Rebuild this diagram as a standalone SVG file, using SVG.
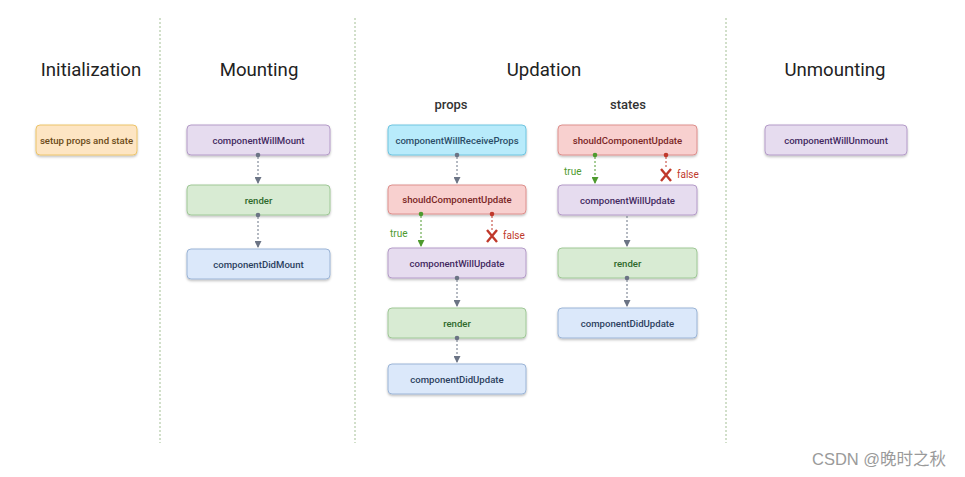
<svg xmlns="http://www.w3.org/2000/svg" width="965" height="477" viewBox="0 0 965 477">
<style>
.t{font-family:Roboto,"Liberation Sans",sans-serif;fill:#222}
.h{font-size:18.6px;text-anchor:middle}
.s{font-size:13px;text-anchor:middle;font-weight:500;fill:#333}
.b{font-family:Roboto,"Liberation Sans",sans-serif;font-size:9.6px;font-weight:500;text-anchor:middle}
.div{stroke:#a3bf94;stroke-width:1;stroke-dasharray:2 2}
.pu rect{fill:#e6dcef;stroke:#b49bc8}.pu text{fill:#43295f}
.gr rect{fill:#d8ebd3;stroke:#9fc896}.gr text{fill:#2f6a2c}
.bl rect{fill:#dbe8fa;stroke:#9bb4d6}.bl text{fill:#2c3f5e}
.rd rect{fill:#f8d0cf;stroke:#dd8f8c}.rd text{fill:#7a2525}
.cy rect{fill:#b8ebfb;stroke:#6fc5e0}.cy text{fill:#2b4d68}
.or rect{fill:#fde5c3;stroke:#ecc46b}.or text{fill:#6a4a17}
.c{fill:none;stroke-width:1;stroke-dasharray:2 2}
.cg{stroke:#6b7485}.cgr{stroke:#4e9a2e}.crd{stroke:#c0392b}
.lbl{font-family:Roboto,"Liberation Sans",sans-serif;font-size:10px}
</style>
<defs>
<filter id="sh" x="-10%" y="-20%" width="120%" height="150%">
<feDropShadow dx="0" dy="1.5" stdDeviation="1" flood-color="#000" flood-opacity="0.25"/>
</filter>
<marker id="ag" viewBox="0 0 10 10" refX="5" refY="10" markerWidth="7" markerHeight="7" markerUnits="userSpaceOnUse"><path d="M0,0 L10,0 L5,10 Z" fill="#6b7485"/></marker>
<marker id="agr" viewBox="0 0 10 10" refX="5" refY="10" markerWidth="7" markerHeight="7" markerUnits="userSpaceOnUse"><path d="M0,0 L10,0 L5,10 Z" fill="#4e9a2e"/></marker>
</defs>
<rect width="965" height="477" fill="#fff"/>
<g id="dividers">
<line class="div" x1="160" y1="18" x2="160" y2="443"/>
<line class="div" x1="355" y1="18" x2="355" y2="443"/>
<line class="div" x1="726" y1="18" x2="726" y2="443"/>
</g>
<g id="titles">
<text class="t h" x="91" y="76">Initialization</text>
<text class="t h" x="259" y="76">Mounting</text>
<text class="t h" x="544" y="76">Updation</text>
<text class="t h" x="835" y="76">Unmounting</text>
<text class="t s" x="451" y="109">props</text>
<text class="t s" x="628" y="109">states</text>
</g>
<g id="n-setup" class="or"><rect x="36" y="125" width="101" height="30" rx="4" filter="url(#sh)"/><text class="b" x="86.5" y="144">setup props and state</text></g>
<g id="n-cwm" class="pu"><rect x="187" y="125" width="143" height="30" rx="4" filter="url(#sh)"/><text class="b" x="258.5" y="144">componentWillMount</text></g>
<g id="n-render-m" class="gr"><rect x="187" y="185" width="143" height="30" rx="4" filter="url(#sh)"/><text class="b" x="258.5" y="204">render</text></g>
<g id="n-cdm" class="bl"><rect x="187" y="249" width="143" height="30" rx="4" filter="url(#sh)"/><text class="b" x="258.5" y="268">componentDidMount</text></g>
<g id="n-cwrp" class="cy"><rect x="388" y="125" width="138" height="30" rx="4" filter="url(#sh)"/><text class="b" x="457" y="144">componentWillReceiveProps</text></g>
<g id="n-scu-p" class="rd"><rect x="388" y="185" width="138" height="29" rx="4" filter="url(#sh)"/><text class="b" x="457" y="203">shouldComponentUpdate</text></g>
<g id="n-cwu-p" class="pu"><rect x="388" y="248" width="138" height="30" rx="4" filter="url(#sh)"/><text class="b" x="457" y="267">componentWillUpdate</text></g>
<g id="n-render-p" class="gr"><rect x="388" y="308" width="138" height="30" rx="4" filter="url(#sh)"/><text class="b" x="457" y="327">render</text></g>
<g id="n-cdu-p" class="bl"><rect x="388" y="364" width="138" height="30" rx="4" filter="url(#sh)"/><text class="b" x="457" y="383">componentDidUpdate</text></g>
<g id="n-scu-s" class="rd"><rect x="558" y="125" width="139" height="30" rx="4" filter="url(#sh)"/><text class="b" x="627.5" y="144">shouldComponentUpdate</text></g>
<g id="n-cwu-s" class="pu"><rect x="558" y="185" width="139" height="30" rx="4" filter="url(#sh)"/><text class="b" x="627.5" y="204">componentWillUpdate</text></g>
<g id="n-render-s" class="gr"><rect x="558" y="248" width="139" height="30" rx="4" filter="url(#sh)"/><text class="b" x="627.5" y="267">render</text></g>
<g id="n-cdu-s" class="bl"><rect x="558" y="308" width="139" height="30" rx="4" filter="url(#sh)"/><text class="b" x="627.5" y="327">componentDidUpdate</text></g>
<g id="n-cwun" class="pu"><rect x="765" y="125" width="142" height="30" rx="4" filter="url(#sh)"/><text class="b" x="836" y="144">componentWillUnmount</text></g>
<g id="connectors">
<g fill="#6b7485">
<circle cx="258" cy="155" r="2.3"/><circle cx="258" cy="215" r="2.3"/>
<circle cx="457" cy="155" r="2.3"/><circle cx="457" cy="278" r="2.3"/><circle cx="457" cy="338" r="2.3"/>
<circle cx="627" cy="278" r="2.3"/>
</g>
<path class="c cg" d="M258,157 V184" marker-end="url(#ag)"/>
<path class="c cg" d="M258,217 V248" marker-end="url(#ag)"/>
<path class="c cg" d="M457,157 V184" marker-end="url(#ag)"/>
<path class="c cg" d="M457,280 V307" marker-end="url(#ag)"/>
<path class="c cg" d="M457,340 V363" marker-end="url(#ag)"/>
<path class="c cg" d="M627,216 V247" marker-end="url(#ag)"/>
<path class="c cg" d="M627,280 V307" marker-end="url(#ag)"/>
<circle cx="421" cy="214" r="2.3" fill="#4e9a2e"/>
<path class="c cgr" d="M421,216 V247" marker-end="url(#agr)"/>
<circle cx="595" cy="155" r="2.3" fill="#4e9a2e"/>
<path class="c cgr" d="M595,157 V184" marker-end="url(#agr)"/>
<circle cx="492" cy="214" r="2.3" fill="#c0392b"/>
<path class="c crd" d="M492,216 V230"/>
<path d="M487,230 L497,242 M497,230 L487,242" stroke="#c0392b" stroke-width="2.4" fill="none"/>
<circle cx="666" cy="155" r="2.3" fill="#c0392b"/>
<path class="c crd" d="M666,157 V169"/>
<path d="M661,169 L671,181 M671,169 L661,181" stroke="#c0392b" stroke-width="2.4" fill="none"/>
<text class="lbl" x="390" y="237" fill="#4e9a2e">true</text>
<text class="lbl" x="503" y="239" fill="#c0392b">false</text>
<text class="lbl" x="564" y="175" fill="#4e9a2e">true</text>
<text class="lbl" x="677" y="178" fill="#c0392b">false</text>
</g>
<text x="812" y="465" font-family="'Liberation Sans','Noto Sans CJK SC',sans-serif" font-size="16.5" fill="#9a9a9a">CSDN @晚时之秋</text>
</svg>
